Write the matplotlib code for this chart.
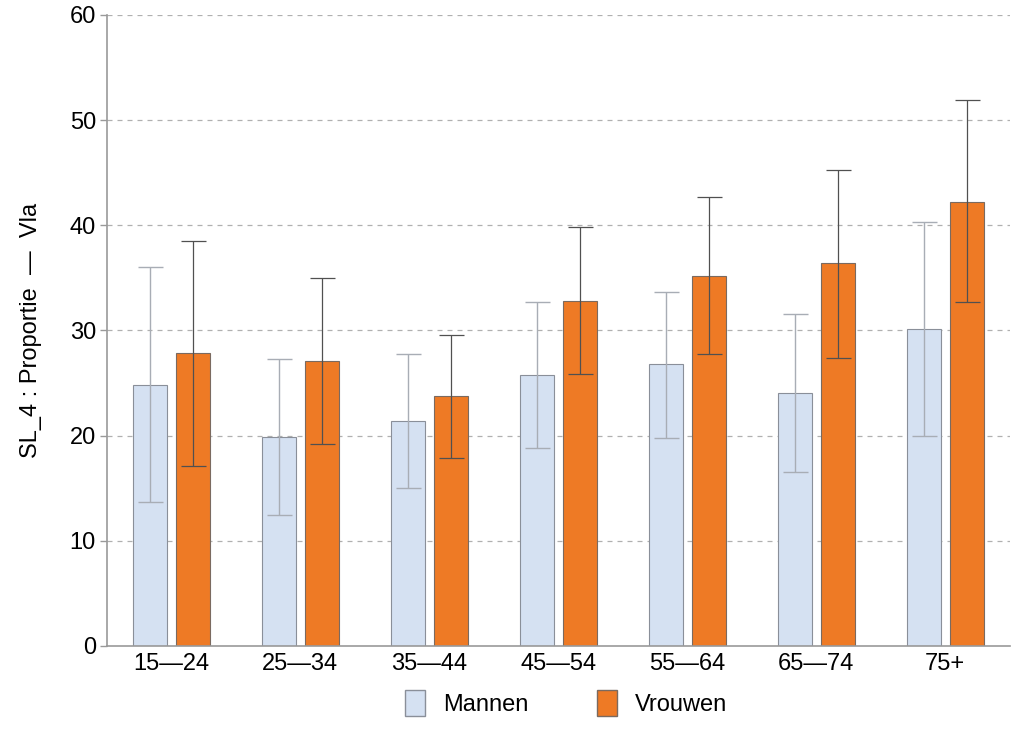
import matplotlib
matplotlib.use("Agg")
import matplotlib.pyplot as plt
import numpy as np
from matplotlib.patches import Patch

categories = ["15—24", "25—34", "35—44", "45—54", "55—64", "65—74", "75+"]
mannen = [24.8, 19.9, 21.4, 25.8, 26.8, 24.1, 30.1]
mannen_lo = [13.7, 12.5, 15.0, 18.8, 19.8, 16.5, 20.0]
mannen_hi = [36.0, 27.3, 27.8, 32.7, 33.7, 31.6, 40.3]
vrouwen = [27.9, 27.1, 23.8, 32.8, 35.2, 36.4, 42.2]
vrouwen_lo = [17.1, 19.2, 17.9, 25.9, 27.8, 27.4, 32.7]
vrouwen_hi = [38.5, 35.0, 29.6, 39.8, 42.7, 45.3, 51.9]
yticks = [0, 10, 20, 30, 40, 50, 60]

plt.rcParams['font.family'] = ['Liberation Sans', 'DejaVu Sans']

fig = plt.figure(figsize=(10.24, 7.31), dpi=100)
ax = fig.add_axes([0.1045, 0.1163, 0.8815, 0.8632])

x = np.arange(len(categories))
w = 0.264
off = 0.167
c_m = "#d5e1f2"
c_v = "#ee7a25"

ax.bar(x - off, mannen, w, color=c_m, edgecolor="#8a8f99", linewidth=0.8, zorder=2)
ax.bar(x + off, vrouwen, w, color=c_v, edgecolor="#7a6a60", linewidth=0.8, zorder=2)

m = np.array(mannen); v = np.array(vrouwen)
ax.errorbar(x - off, m, yerr=[m - np.array(mannen_lo), np.array(mannen_hi) - m],
            fmt="none", ecolor="#a8adb5", elinewidth=1.0, capsize=9, capthick=1.0, zorder=3)
ax.errorbar(x + off, v, yerr=[v - np.array(vrouwen_lo), np.array(vrouwen_hi) - v],
            fmt="none", ecolor="#505050", elinewidth=0.9, capsize=9, capthick=0.9, zorder=3)

ax.set_xlim(-0.5, len(categories) - 0.5)
ax.set_ylim(0, 60)
ax.set_yticks(yticks)
ax.set_yticklabels([str(t) for t in yticks], fontsize=17)
ax.set_xticks(x)
ax.set_xticklabels(categories, fontsize=17)
ax.tick_params(axis='x', length=0, pad=5)
ax.tick_params(axis='y', length=5, color="#999999", width=1, pad=3)

for t in yticks[1:]:
    ax.axhline(t, color="#b0b0b0", linestyle=(0, (4, 4)), linewidth=0.9, zorder=1)

for s in ["top", "right"]:
    ax.spines[s].set_visible(False)
ax.spines["left"].set_color("#999999")
ax.spines["bottom"].set_color("#999999")
ax.spines["left"].set_linewidth(1.2)
ax.spines["bottom"].set_linewidth(1.2)

ax.set_ylabel("SL_4 : Proportie  —  Vla", fontsize=17, labelpad=20)

handles = [Patch(facecolor=c_m, edgecolor="#8a8f99", label="Mannen"),
           Patch(facecolor=c_v, edgecolor="#7a6a60", label="Vrouwen")]
fig.legend(handles=handles, loc="center", bbox_to_anchor=(0.553, 0.038), ncol=2,
           frameon=False, fontsize=17, handlelength=0.85, handleheight=1.3,
           handletextpad=0.76, columnspacing=2.9)

fig.savefig("out.png", dpi=100)
